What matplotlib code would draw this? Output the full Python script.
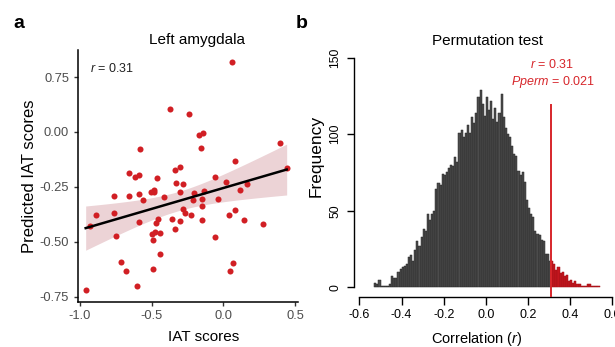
import numpy as np
import matplotlib
matplotlib.use("Agg")
import matplotlib.pyplot as plt

plt.rcParams["font.family"] = ["Liberation Sans", "DejaVu Sans"]
plt.rcParams["axes.unicode_minus"] = False
plt.rcParams["mathtext.fontset"] = "custom"
plt.rcParams["mathtext.it"] = "Liberation Sans:italic"
plt.rcParams["mathtext.rm"] = "Liberation Sans"

# ---------------------------------------------------------------------------
# Data (panel a): observed vs predicted IAT scores
# ---------------------------------------------------------------------------
iat_scores = [-0.96, -0.93, -0.887, -0.764, -0.764, -0.75, -0.715, -0.676, -0.655, -0.655,
              -0.616, -0.588, -0.58, -0.59, -0.59, -0.604, -0.558, -0.507, -0.486, -0.48,
              -0.465, -0.5, -0.493, -0.474, -0.458, -0.47, -0.444, -0.44, -0.493, -0.414,
              -0.37, -0.34, -0.331, -0.30, -0.356, -0.338, -0.303, -0.305, -0.28, -0.266,
              -0.278, -0.238, -0.222, -0.201, -0.208, -0.17, -0.14, -0.157, -0.134, -0.151,
              -0.151, -0.151, -0.06, -0.04, -0.06, 0.016, 0.042, 0.083, 0.081, 0.118,
              0.164, 0.146, 0.275, 0.393, 0.442, 0.06, 0.049, 0.069]
predicted = [-0.718, -0.43, -0.38, -0.29, -0.37, -0.476, -0.59, -0.632, -0.185, -0.29,
             -0.203, -0.196, -0.076, -0.283, -0.412, -0.70, -0.308, -0.273, -0.264, -0.273,
             -0.208, -0.465, -0.49, -0.455, -0.395, -0.415, -0.458, -0.555, -0.624, -0.298,
             0.105, -0.173, -0.233, -0.158, -0.395, -0.442, -0.274, -0.405, -0.351, -0.37,
             -0.236, 0.08, -0.38, -0.279, -0.312, -0.014, -0.006, -0.073, -0.267, -0.306,
             -0.336, -0.399, -0.203, -0.305, -0.479, -0.229, -0.38, -0.133, -0.355, -0.264,
             -0.238, -0.401, -0.421, -0.052, -0.165, 0.317, -0.635, -0.597]

# the original figure labels its top y tick "0.75" (sic)
a_yticks = [0.25, 0.0, -0.25, -0.5, -0.75]
a_yticklabels = ["0.75", "0.00", "-0.25", "-0.50", "-0.75"]
a_xticks = [-1.0, -0.5, 0.0, 0.5]
a_xticklabels = ["-1.0", "-0.5", "0.0", "0.5"]

# ---------------------------------------------------------------------------
# Data (panel b): permutation null distribution, bins of 0.01 from -0.53
# ---------------------------------------------------------------------------
bin_start = -0.53
bin_width = 0.01
perm_counts = [3, 2, 5, 1, 1, 1, 1, 2, 7, 6,
               6, 10, 12, 13, 14, 15, 20, 21, 17, 24,
               30, 27, 33, 38, 37, 48, 44, 48, 50, 64,
               68, 67, 74, 73, 75, 78, 80, 79, 85, 82,
               101, 103, 98, 101, 106, 101, 111, 107, 114, 124,
               129, 120, 112, 124, 116, 122, 110, 117, 108, 114,
               126, 111, 104, 100, 98, 92, 87, 86, 76, 73,
               75, 69, 57, 52, 48, 46, 37, 35, 34, 31,
               30, 22, 22, 17, 17, 15, 11, 13, 9, 10,
               7, 8, 4, 5, 3, 4, 2, 2, 1, 1,
               1, 2, 2, 1, 1, 1, 1]
r_obs = 0.31
p_perm = 0.021
line_top = 119
b_xticks = [-0.6, -0.4, -0.2, 0.0, 0.2, 0.4, 0.6]
b_xticklabels = ["-0.6", "-0.4", "-0.2", "0.0", "0.2", "0.4", "0.6"]
b_yticks = [0, 50, 100, 150]

W, H = 615, 347
fig = plt.figure(figsize=(W / 100, H / 100), dpi=100)


def px(x, y):
    # pixel position (from top-left) -> figure fraction
    return x / W, 1 - y / H


# ---------------------------------------------------------------------------
# Panel a: scatter + linear fit with 95% CI
# ---------------------------------------------------------------------------
ax = fig.add_axes([77.5 / W, 1 - 301.7 / H, 220.2 / W, 251.7 / H])
x = np.array(iat_scores)
y = np.array(predicted)

slope, intercept = np.polyfit(x, y, 1)
xs = np.linspace(x.min(), x.max(), 100)
fit = intercept + slope * xs
n = len(x)
resid = y - (intercept + slope * x)
s = np.sqrt(np.sum(resid ** 2) / (n - 2))
se = s * np.sqrt(1 / n + (xs - x.mean()) ** 2 / np.sum((x - x.mean()) ** 2))
tq = 1.997  # t(0.975, df=66)

ax.fill_between(xs, fit - tq * se, fit + tq * se, color="#ecd3d6", lw=0, zorder=1)
ax.scatter(x, y, s=19, color="#d11f24", lw=0, zorder=2)
ax.plot(xs, fit, color="black", lw=1.8, zorder=3)

ax.set_xlim(-1.017, 0.519)
ax.set_ylim(-0.773, 0.373)
ax.set_xticks(a_xticks)
ax.set_xticklabels(a_xticklabels)
ax.set_yticks(a_yticks)
ax.set_yticklabels(a_yticklabels)
for side in ["top", "right"]:
    ax.spines[side].set_visible(False)
for side in ["left", "bottom"]:
    ax.spines[side].set_linewidth(1.1)
ax.tick_params(length=3, width=1, color="#333333", labelsize=9.3, labelcolor="#4d4d4d", pad=3)

fig.text(*px(90, 69), "$r$ = 0.31", fontsize=9, color="#222222", ha="left", va="center")
fig.text(*px(197, 40), "Left amygdala", fontsize=11, ha="center", va="center")
fig.text(*px(30, 176), "Predicted IAT scores", fontsize=12, rotation=90, ha="center", va="center")
fig.text(*px(204, 337), "IAT scores", fontsize=11, ha="center", va="center")
fig.text(*px(19, 24), "a", fontsize=14, fontweight="bold", ha="center", va="center")

# ---------------------------------------------------------------------------
# Panel b: permutation histogram
# ---------------------------------------------------------------------------
bx = fig.add_axes([353.6 / W, 1 - 296.7 / H, 262.4 / W, 246.7 / H])
counts = np.array(perm_counts)
lefts = bin_start + bin_width * np.arange(len(counts))
is_tail = lefts >= r_obs - 1e-9
bx.bar(lefts[~is_tail], counts[~is_tail], width=bin_width, align="edge",
       color="#4c4c4c", edgecolor="#262626", lw=0.35, zorder=2)
bx.bar(lefts[is_tail], counts[is_tail], width=bin_width, align="edge",
       color="#c4161e", edgecolor="#a01016", lw=0.35, zorder=2)

bx.set_xlim(-0.628, 0.618)
bx.set_ylim(-6.2, 155)
bx.axvline(r_obs, ymin=0, ymax=(line_top + 6.2) / (155 + 6.2), color="#d7262b", lw=1.4, zorder=3)

bx.set_xticks(b_xticks)
bx.set_xticklabels(b_xticklabels)
bx.set_yticks(b_yticks)
bx.set_yticklabels([str(v) for v in b_yticks], rotation=90, va="center")
for side in ["top", "right"]:
    bx.spines[side].set_visible(False)
bx.spines["left"].set_bounds(0, 150)
bx.spines["bottom"].set_bounds(-0.6, 0.6)
bx.spines["left"].set_linewidth(1.0)
bx.spines["bottom"].set_linewidth(1.0)
bx.tick_params(axis="x", length=6, width=1, labelsize=9, pad=3)
bx.tick_params(axis="y", length=5, width=1, labelsize=8.8, pad=4)

fig.text(*px(487, 41), "Permutation test", fontsize=11, ha="center", va="center")
fig.text(*px(552, 65), "$r$ = 0.31", fontsize=9, color="#d7262b", ha="center", va="center")
fig.text(*px(553, 82), "$Pperm$ = 0.021", fontsize=9, color="#d7262b", ha="center", va="center")
fig.text(*px(316, 156), "Frequency", fontsize=12.5, rotation=90, ha="center", va="center")
fig.text(*px(477, 339), "Correlation ($r$)", fontsize=10.5, ha="center", va="center")
fig.text(*px(302, 23), "b", fontsize=14, fontweight="bold", ha="center", va="center")

fig.savefig("out.png", dpi=100)
